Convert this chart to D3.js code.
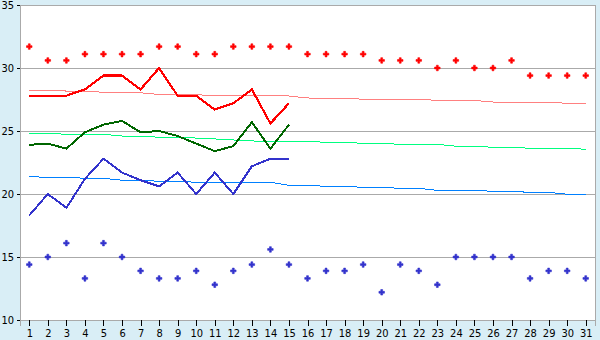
<!DOCTYPE html>
<html>
<head>
<meta charset="utf-8">
<script src="https://cdn.jsdelivr.net/npm/d3@7"></script>
<style>
  body { margin: 0; background: #d9eef6; }
  svg { display: block; }
  .tick text { font-family: "DejaVu Sans Condensed", "DejaVu Sans", sans-serif; font-size: 11px; fill: #000; }
</style>
</head>
<body>
<div id="chart"></div>
<script>
// Daily temperatures (°C) for one month
const days = d3.range(1, 32);

// record highs / record lows (markers)
const recordHigh = [31.7, 30.6, 30.6, 31.1, 31.1, 31.1, 31.1, 31.7, 31.7, 31.1,
                    31.1, 31.7, 31.7, 31.7, 31.7, 31.1, 31.1, 31.1, 31.1, 30.6,
                    30.6, 30.6, 30.0, 30.6, 30.0, 30.0, 30.6, 29.4, 29.4, 29.4, 29.4];
const recordLow = [14.4, 15.0, 16.1, 13.3, 16.1, 15.0, 13.9, 13.3, 13.3, 13.9,
                   12.8, 13.9, 14.4, 15.6, 14.4, 13.3, 13.9, 13.9, 14.4, 12.2,
                   14.4, 13.9, 12.8, 15.0, 15.0, 15.0, 15.0, 13.3, 13.9, 13.9, 13.3];

// normals (thin lines)
const normalHigh = [28.25, 28.25, 28.17, 28.17, 28.07, 28.07, 28.03, 27.9, 27.9, 27.88,
                    27.8, 27.8, 27.8, 27.8, 27.78, 27.62, 27.6, 27.6, 27.52, 27.52,
                    27.52, 27.5, 27.44, 27.44, 27.42, 27.3, 27.28, 27.28, 27.28, 27.2, 27.2];
const normalMean = [24.82, 24.82, 24.74, 24.74, 24.74, 24.6, 24.6, 24.5, 24.5, 24.44,
                    24.37, 24.29, 24.21, 24.18, 24.18, 24.18, 24.1, 24.1, 24.02, 24.02,
                    23.94, 23.94, 23.94, 23.79, 23.79, 23.71, 23.71, 23.63, 23.63, 23.63, 23.55];
const normalLow = [21.37, 21.33, 21.33, 21.25, 21.25, 21.09, 21.09, 21.01, 21.01, 20.93,
                   20.93, 20.93, 20.93, 20.93, 20.69, 20.69, 20.61, 20.61, 20.53, 20.53,
                   20.45, 20.45, 20.29, 20.29, 20.29, 20.21, 20.21, 20.13, 20.13, 19.98, 19.98];

// observed this month (days 1-15)
const obsHigh = [27.8, 27.8, 27.8, 28.3, 29.4, 29.4, 28.3, 30.0, 27.8, 27.8,
                 26.7, 27.2, 28.3, 25.6, 27.2];
const obsMean = [23.9, 24.0, 23.6, 24.9, 25.5, 25.8, 24.9, 25.0, 24.6, 24.0,
                 23.4, 23.8, 25.7, 23.6, 25.5];
const obsLow = [18.3, 20.0, 18.9, 21.2, 22.8, 21.7, 21.1, 20.6, 21.7, 20.0,
                21.7, 20.0, 22.2, 22.8, 22.8];

const yTicks = [10, 15, 20, 25, 30, 35];

const width = 600, height = 340;
const margin = {top: 5, right: 5, bottom: 20, left: 20};

const svg = d3.select("#chart").append("svg")
    .attr("width", width)
    .attr("height", height);

const x = d3.scalePoint()
    .domain(days)
    .range([margin.left, width - margin.right])
    .padding(0.5);

const y = d3.scaleLinear()
    .domain([10, 35])
    .range([height - margin.bottom, margin.top]);

// plot background
svg.append("rect")
    .attr("x", margin.left)
    .attr("y", margin.top)
    .attr("width", width - margin.left - margin.right)
    .attr("height", height - margin.top - margin.bottom)
    .attr("fill", "#fff")
    .attr("stroke", "#aaa")
    .attr("shape-rendering", "crispEdges");

// gridlines
svg.append("g")
    .selectAll("line")
    .data(yTicks.filter(d => d > 10 && d < 35))
    .join("line")
    .attr("x1", margin.left)
    .attr("x2", width - margin.right)
    .attr("y1", d => Math.round(y(d)) + 0.5)
    .attr("y2", d => Math.round(y(d)) + 0.5)
    .attr("stroke", "#aaa")
    .attr("shape-rendering", "crispEdges");

// axes
const yAxis = svg.append("g")
    .attr("transform", `translate(${margin.left},0)`)
    .call(d3.axisLeft(y).tickValues(yTicks).tickSize(3).tickPadding(3));

const xAxis = svg.append("g")
    .attr("transform", `translate(0,${height - margin.bottom})`)
    .call(d3.axisBottom(x).tickSize(6).tickPadding(3));

[yAxis, xAxis].forEach(g => {
    g.select(".domain").attr("stroke", "#aaa").attr("shape-rendering", "crispEdges");
    g.selectAll(".tick line").attr("stroke", "#000").attr("shape-rendering", "crispEdges");
});

// lines
function drawLine(values, color, w) {
    const line = d3.line()
        .x((d, i) => x(days[i]))
        .y(d => y(d));
    svg.append("path")
        .datum(values)
        .attr("d", line)
        .attr("fill", "none")
        .attr("stroke", color)
        .attr("stroke-width", w)
        .attr("shape-rendering", "crispEdges");
}

drawLine(normalHigh, "#ff8080", 1);
drawLine(normalMean, "#00ff80", 1);
drawLine(normalLow, "#0080ff", 1);

drawLine(obsHigh, "#ff0000", 2.2);
drawLine(obsMean, "#006600", 2);
drawLine(obsLow, "#3333cc", 2);

// record markers
function drawMarkers(values, color) {
    const sym = d3.symbol().type(d3.symbolCross).size(17);
    svg.append("g")
        .selectAll("path")
        .data(values)
        .join("path")
        .attr("transform", (d, i) => `translate(${x(days[i])},${y(d)})`)
        .attr("d", sym)
        .attr("fill", color)
        .attr("stroke", color)
        .attr("stroke-width", 0.6);
}

drawMarkers(recordHigh, "#ff0000");
drawMarkers(recordLow, "#3333cc");
</script>
</body>
</html>
